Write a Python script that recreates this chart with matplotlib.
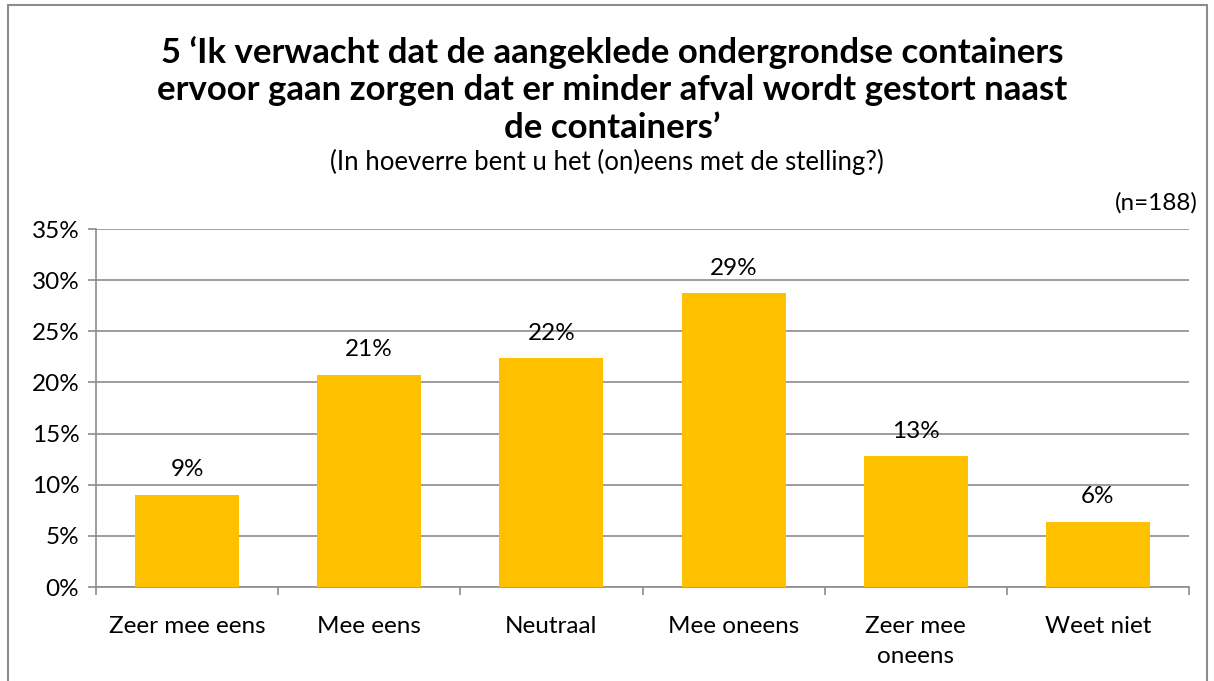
import matplotlib.pyplot as plt
from matplotlib.patches import Rectangle
from matplotlib.ticker import FuncFormatter

categories = ["Zeer mee eens", "Mee eens", "Neutraal", "Mee oneens", "Zeer mee\noneens", "Weet niet"]
values = [9.04, 20.74, 22.34, 28.72, 12.77, 6.38]
labels = ["9%", "21%", "22%", "29%", "13%", "6%"]
yticks = [0, 5, 10, 15, 20, 25, 30, 35]

title = ("5 \u2018Ik verwacht dat de aangeklede ondergrondse containers\n"
         "ervoor gaan zorgen dat er minder afval wordt gestort naast\n"
         "de containers\u2019")
subtitle = "(In hoeverre bent u het (on)eens met de stelling?)"
note = "(n=188)"

plt.rcParams['font.family'] = ['Lato', 'DejaVu Sans']
grey = "#8c8c8c"
fs = 17.5

fig = plt.figure(figsize=(12.14, 6.81), dpi=100)
ax = fig.add_axes([96 / 1214, 94 / 681, 1093 / 1214, 358 / 681])

x = range(len(categories))
ax.bar(x, values, width=0.57, color="#FFC000", zorder=3)
for i, v in enumerate(values):
    ax.annotate(labels[i], (i, v), xytext=(0, 18), textcoords="offset points",
                ha="center", va="center", fontsize=fs)

ax.set_xlim(-0.5, len(categories) - 0.5)
ax.set_ylim(0, 35)
ax.set_yticks(yticks)
ax.yaxis.set_major_formatter(FuncFormatter(lambda v, p: f"{v:.0f}%"))
ax.grid(axis="y", color=grey, linewidth=1.2, zorder=0)
ax.set_xticks(list(x))
ax.set_xticklabels(categories, fontsize=fs, linespacing=1.5)
ax.set_xticks([i - 0.5 for i in range(len(categories) + 1)], minor=True)
ax.tick_params(axis="x", which="major", length=0, pad=21)
ax.tick_params(axis="x", which="minor", length=6, color=grey, width=1.2)
ax.tick_params(axis="y", length=6, color=grey, width=1.2, labelsize=fs, pad=6)
for s in ["top", "right"]:
    ax.spines[s].set_visible(False)
for s in ["left", "bottom"]:
    ax.spines[s].set_color(grey)
    ax.spines[s].set_linewidth(1.2)

fig.text(0.5 + 5 / 1214, 1 - 90 / 681, title, ha="center", va="center", fontsize=25,
         fontweight="bold", linespacing=1.2)
fig.text(0.5, 1 - 162 / 681, subtitle, ha="center", va="center", fontsize=18.5)
fig.text(1198 / 1214, 1 - 203 / 681, note, ha="right", va="center", fontsize=fs)

fig.patches.append(Rectangle((8 / 1214, -10 / 681), 1199 / 1214, 686 / 681,
                             transform=fig.transFigure, fill=False,
                             edgecolor=grey, linewidth=1.5))

fig.savefig("out.png", dpi=100)
